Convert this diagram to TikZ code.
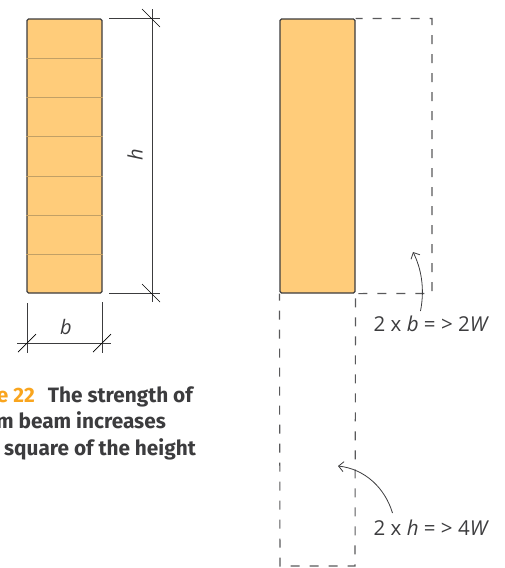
\documentclass[tikz,border=0pt]{standalone}
\usepackage{fontspec}
\setmainfont{Open Sans}
\newfontfamily\captionfont{Fira Sans}
\usetikzlibrary{arrows.meta, positioning}
\definecolor{beamfill}{HTML}{FFCC7A}
\definecolor{beamline}{HTML}{C2A066}
\definecolor{inkgrey}{HTML}{3C3C3E}
\definecolor{numorange}{HTML}{F9A51E}
\tikzset{
  beam/.style={rectangle, rounded corners=1.5pt, draw=inkgrey, fill=beamfill, line width=1.1pt, minimum width=75pt, minimum height=274pt, inner sep=0pt},
  ghost/.style={draw=inkgrey!85, line width=1.1pt, dash pattern=on 9pt off 10pt, dash phase=2pt},
  dimline/.style={draw=inkgrey, line width=1pt},
  tick/.style={draw=black, line width=0.7pt},
  note/.style={font=\fontsize{20}{24}\selectfont\itshape, text=inkgrey, inner sep=0pt},
  notetext/.style={font=\fontsize{20.5}{24}\selectfont, text=inkgrey, inner sep=0pt},
  caption/.style={font=\captionfont\fontsize{20.8}{24}\selectfont\bfseries, text=inkgrey, inner sep=0pt, anchor=base east},
  curved/.style={draw=inkgrey, line width=0.8pt, -{Straight Barb[length=5pt,width=10pt]}}
}
\begin{document}
\begin{tikzpicture}[x=1pt, y=-1pt]
  \useasboundingbox (0,0) rectangle (505,568);
  \clip (0,0) rectangle (505,568);

  % sawn beam with its layers
  \node [beam] (glulam) at (64.5,156) {};
  \foreach \y in {58,97,136,176,215,254}
    \draw [beamline, line width=0.9pt] (glulam.west |- 0,\y) -- (glulam.east |- 0,\y);

  % height dimension
  \coordinate (hTopL) at (109,18);
  \coordinate (hTopR) at (160,18);
  \coordinate (hBotL) at (109,293);
  \coordinate (hBotR) at (160,293);
  \coordinate (hTop) at (152,9);
  \coordinate (hBot) at (152,302);
  \path [dimline] (hTopL) -- (hTopR);
  \path [dimline] (hBotL) -- (hBotR);
  \path [dimline] (hTop) -- (hBot);
  \draw [tick] (142,9) -- (160,27);
  \draw [tick] (142,284) -- (160,302);
  \node [note, rotate=90] (hlabel) at (135,155) {h};

  % width dimension
  \coordinate (bLeftT) at (27,303);
  \coordinate (bLeftB) at (27,353);
  \coordinate (bRightT) at (102,302);
  \coordinate (bRightB) at (102,353);
  \coordinate (bEndL) at (17,343);
  \coordinate (bEndR) at (111,343);
  \path [dimline] (bLeftT) -- (bLeftB);
  \path [dimline] (bRightT) -- (bRightB);
  \path [dimline] (bEndL) -- (bEndR);
  \draw [tick] (18,352) -- (36,334);
  \draw [tick] (93,352) -- (111,334);
  \node [note] (blabel) at (66,327) {b};

  % caption, cut off at the page edge
  \node [caption] (capA) at (193,402) {\textcolor{numorange}{e 22}\hspace{13pt}The strength of};
  \node [caption] (capB) at (166,428) {m beam increases};
  \node [caption] (capC) at (196,455) {square of the height};

  % beam on the right with the doubled outlines
  \node [beam] (solid) at (317.5,156) {};
  \coordinate (wideTR) at (432,18.5);
  \coordinate (wideBR) at (432,293.5);
  \coordinate (tallBL) at (280,566);
  \coordinate (tallBR) at (355,566);
  \path [ghost] (solid.north east) -- (wideTR) -- (wideBR) -- (solid.south east);
  \path [ghost] (solid.south west) -- (tallBL) -- (tallBR) -- (solid.south east);

  % notes and their arrows
  \node [notetext, anchor=base west] (wideNote) at (373.5,331) {2 x \textit{b} = > 2\textit{W}};
  \node [notetext, anchor=base west] (tallNote) at (373.5,535) {2 x \textit{h} = > 4\textit{W}};
  \coordinate (wideTip) at (413,252);
  \coordinate (tallTip) at (338,466);
  \draw [curved] (420.5,311) .. controls (425,288) and (421,268) .. (wideTip);
  \draw [curved] (392.5,513) .. controls (385,488) and (365,469) .. (tallTip);
\end{tikzpicture}
\end{document}
